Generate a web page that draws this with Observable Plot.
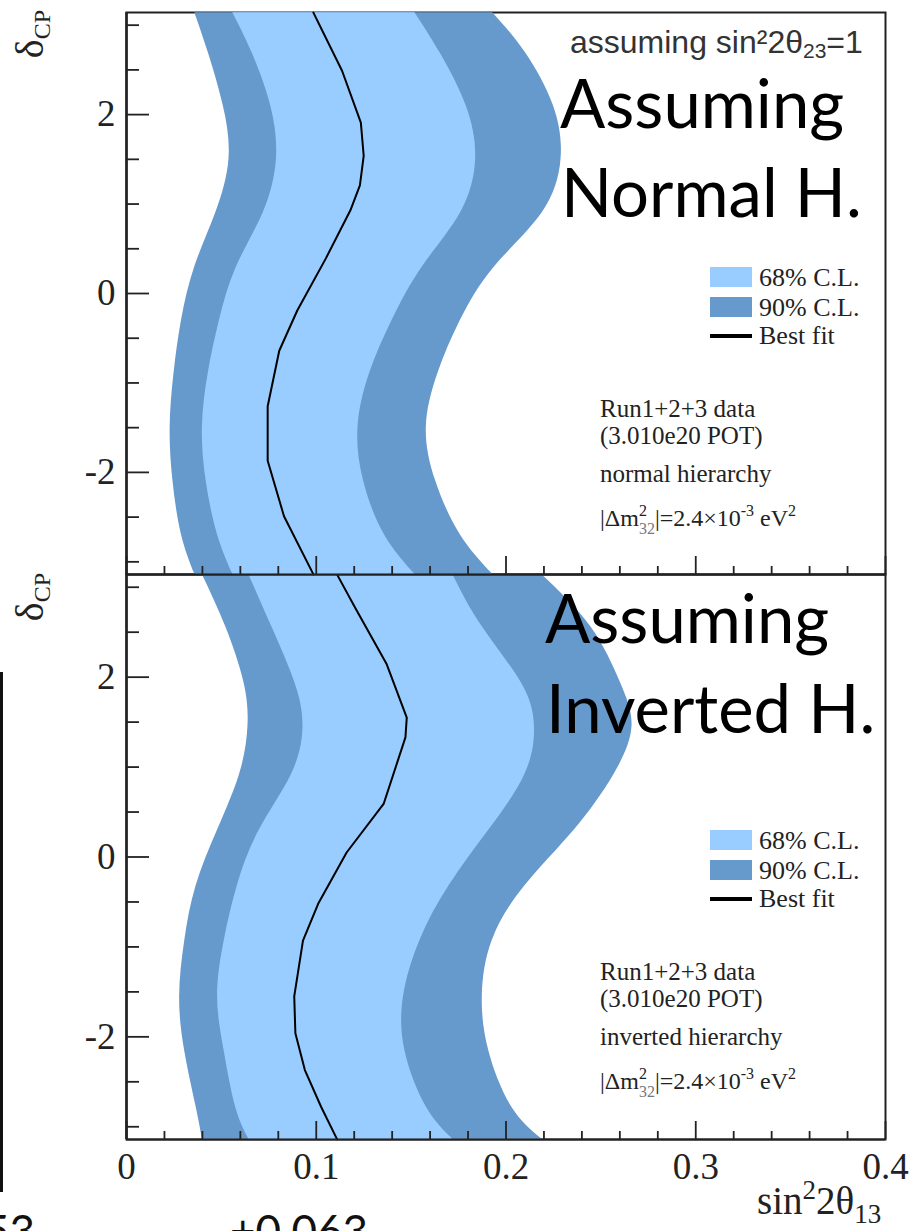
<!DOCTYPE html>
<html>
<head>
<meta charset="utf-8">
<script src="https://cdn.jsdelivr.net/npm/d3@7"></script>
<script src="https://cdn.jsdelivr.net/npm/@observablehq/plot@0.6"></script>
<style>
  html, body { margin: 0; padding: 0; background: white; }
  #wrap { position: relative; width: 912px; height: 1231px; overflow: hidden; background: white; }
  #wrap svg { position: absolute; left: 0; background: transparent; overflow: visible; }
  #artLine { position: absolute; left: 0; top: 672px; width: 3px; height: 520px; background: #111; }
</style>
</head>
<body>
<div id="wrap"><div id="artLine"></div></div>
<script>
// ---------- data ----------
// Normal hierarchy (top panel)
const nhDelta = [-3.14, -2.7, -2.1, -1.5, -0.9, -0.3, 0.3, 0.9, 1.5, 2.1, 2.7, 3.14];
const nhLo90  = [0.036, 0.029, 0.0245, 0.023, 0.025, 0.029, 0.036, 0.047, 0.054, 0.051, 0.043, 0.036];
const nhLo68  = [0.056, 0.048, 0.042, 0.040, 0.043, 0.049, 0.058, 0.072, 0.079, 0.076, 0.066, 0.056];
const nhHi68  = [0.152, 0.136, 0.125, 0.122, 0.128, 0.140, 0.156, 0.176, 0.184, 0.179, 0.165, 0.152];
const nhHi90  = [0.193, 0.176, 0.163, 0.158, 0.164, 0.176, 0.194, 0.219, 0.229, 0.225, 0.210, 0.193];
const nhBestDelta = [-3.14, -2.49, -1.87, -1.26, -0.64, -0.19, 0.39, 0.93, 1.21, 1.54, 1.91, 2.49, 3.14];
const nhBest      = [0.0985, 0.083, 0.0744, 0.0744, 0.0805, 0.090, 0.105, 0.118, 0.123, 0.125, 0.1235, 0.1136, 0.0985];

// Inverted hierarchy (bottom panel)
const ihDelta = [-3.14, -2.78, -2.16, -1.55, -0.93, -0.32, 0.3, 0.92, 1.45, 1.94, 2.56, 3.14];
const ihLo90  = [0.040, 0.0367, 0.0307, 0.028, 0.0307, 0.0367, 0.048, 0.0596, 0.064, 0.0619, 0.0523, 0.040];
const ihLo68  = [0.0645, 0.0575, 0.0515, 0.048, 0.0515, 0.0584, 0.0700, 0.087, 0.093, 0.0887, 0.0766, 0.0645];
const ihHi68  = [0.172, 0.158, 0.1468, 0.146, 0.1546, 0.170, 0.191, 0.210, 0.215, 0.208, 0.1875, 0.172];
const ihHi90  = [0.219, 0.203, 0.191, 0.1875, 0.1927, 0.210, 0.236, 0.257, 0.2664, 0.2603, 0.2447, 0.219];
const ihBestDelta = [-3.14, -2.78, -2.37, -1.96, -1.55, -0.93, -0.52, 0.05, 0.59, 1.33, 1.55, 2.15, 2.76, 3.14];
const ihBest      = [0.111, 0.1026, 0.094, 0.089, 0.0884, 0.093, 0.101, 0.116, 0.1355, 0.147, 0.1477, 0.137, 0.1208, 0.111];

// axes
const xDomain = [0, 0.4];
const yDomain = [-Math.PI, Math.PI];
const xMajorTicks = [0, 0.1, 0.2, 0.3, 0.4];
const xMinorTicks = [0.02, 0.04, 0.06, 0.08, 0.12, 0.14, 0.16, 0.18, 0.22, 0.24, 0.26, 0.28, 0.32, 0.34, 0.36, 0.38];
const yMajorTicks = [-2, 0, 2];
const yMinorTicks = [-3, -2.5, -1.5, -1, -0.5, 0.5, 1, 1.5, 2.5, 3];

// texts
const legendLabels = ["68% C.L.", "90% C.L.", "Best fit"];
const runLines = ["Run1+2+3 data", "(3.010e20 POT)"];
const hierarchyLabels = ["normal hierarchy", "inverted hierarchy"];
const bigTitles = [["Assuming", "Normal H."], ["Assuming", "Inverted H."]];

// colors
const c68 = "#99ccff";
const c90 = "#6699cc";
const ink = "#222";

// ---------- helpers ----------
const toRows = (d, lo90, lo68, hi68, hi90) => d.map((v, i) => ({d: v, lo90: lo90[i], lo68: lo68[i], hi68: hi68[i], hi90: hi90[i]}));
const toLine = (d, s) => d.map((v, i) => ({d: v, s: s[i]}));

const W = 912, ML = 126, MR = 27;
const innerW = W - ML - MR;

function panel({rows, best, height, marginTop, marginBottom, showXLabels}) {
  const innerH = height - marginTop - marginBottom;
  const marks = [
    Plot.frame({stroke: ink, strokeWidth: 2}),
    Plot.areaX(rows, {y: "d", x1: "lo90", x2: "hi90", fill: c90, curve: "natural"}),
    Plot.areaX(rows, {y: "d", x1: "lo68", x2: "hi68", fill: c68, curve: "natural"}),
    Plot.line(best, {x: "s", y: "d", stroke: "#000", strokeWidth: 2}),
    Plot.ruleY([yDomain[0]], {stroke: ink, strokeWidth: 2}),
    Plot.ruleX([xDomain[0]], {stroke: ink, strokeWidth: 2.5}),
    Plot.tickY(yMajorTicks, {y: d => d, insetRight: innerW - 23, stroke: ink, strokeWidth: 1.8}),
    Plot.tickY(yMinorTicks, {y: d => d, insetRight: innerW - 13, stroke: ink, strokeWidth: 1.8}),
    Plot.tickX(xMajorTicks, {x: d => d, insetTop: innerH - 18, stroke: ink, strokeWidth: 1.8}),
    Plot.tickX(xMinorTicks, {x: d => d, insetTop: innerH - 8, stroke: ink, strokeWidth: 1.8}),
    Plot.axisY(yMajorTicks, {tickSize: 0, tickPadding: 11, tickFormat: d => String(d), label: null,
      fontSize: 37, fontFamily: "Liberation Serif", fill: ink})
  ];
  if (showXLabels) {
    marks.push(Plot.axisX(xMajorTicks, {tickSize: 0, tickPadding: 13, tickFormat: d => String(d), label: null,
      fontSize: 37, fontFamily: "Liberation Serif", fill: ink}));
  }
  return Plot.plot({
    width: W, height, marginLeft: ML, marginRight: MR, marginTop, marginBottom,
    x: {domain: xDomain, axis: showXLabels ? undefined : null},
    y: {domain: yDomain},
    style: {background: "transparent", fontFamily: "Liberation Serif", overflow: "visible"},
    marks
  });
}

const wrap = document.getElementById("wrap");

// bottom panel first (so top panel's axis line is drawn above it)
const BOTTOM_TOP = 562;
const bottomSvg = panel({
  rows: toRows(ihDelta, ihLo90, ihLo68, ihHi68, ihHi90),
  best: toLine(ihBestDelta, ihBest),
  height: 1231 - BOTTOM_TOP, marginTop: 12, marginBottom: 1231 - BOTTOM_TOP - 577, showXLabels: true
});
bottomSvg.style.top = BOTTOM_TOP + "px";
wrap.appendChild(bottomSvg);

const topSvg = panel({
  rows: toRows(nhDelta, nhLo90, nhLo68, nhHi68, nhHi90),
  best: toLine(nhBestDelta, nhBest),
  height: 580, marginTop: 12, marginBottom: 6, showXLabels: false
});
topSvg.style.top = "0px";
wrap.appendChild(topSvg);

// ---------- annotations ----------
function newGroup(svgEl) {
  return d3.select(svgEl).append("g").attr("text-anchor", "start");
}

function annotate(svgEl, oy, idx) {
  const g = newGroup(svgEl);
  // y label  δ_CP (rotated)
  const yl = g.append("text")
    .attr("transform", `translate(43,${oy + 10}) rotate(-90)`)
    .attr("text-anchor", "end")
    .attr("font-family", "Liberation Serif").attr("fill", ink);
  yl.append("tspan").attr("font-size", 40).text("δ");
  yl.append("tspan").attr("font-size", 24).attr("dy", 7).text("CP");

  // big titles
  const t = bigTitles[idx];
  const bx = idx === 0 ? 560 : 545;
  const b1 = idx === 0 ? 128 : 80;
  g.append("text").attr("x", bx).attr("y", oy + b1).attr("font-family", "Lato").attr("font-size", 67).attr("fill", "#000").text(t[0]);
  g.append("text").attr("x", bx + 1).attr("y", oy + b1 + (idx === 0 ? 89 : 90)).attr("font-family", "Lato").attr("font-size", 67).attr("fill", "#000").text(t[1]);

  // legend
  const lx = 710;
  g.append("rect").attr("x", lx).attr("y", oy + 267).attr("width", 42).attr("height", 20).attr("fill", c68);
  g.append("rect").attr("x", lx).attr("y", oy + 297).attr("width", 42).attr("height", 20).attr("fill", c90);
  g.append("line").attr("x1", lx).attr("x2", lx + 42).attr("y1", oy + 336).attr("y2", oy + 336).attr("stroke", "#000").attr("stroke-width", 4);
  [286, 316, 344].forEach((b, i) => {
    g.append("text").attr("x", 759).attr("y", oy + b).attr("font-family", "Liberation Serif").attr("font-size", 26).attr("fill", ink).text(legendLabels[i]);
  });

  // run info
  g.append("text").attr("x", 600).attr("y", oy + 417).attr("font-family", "Liberation Serif").attr("font-size", 25).attr("fill", ink).text(runLines[0]);
  g.append("text").attr("x", 600).attr("y", oy + 444).attr("font-family", "Liberation Serif").attr("font-size", 25).attr("fill", ink).text(runLines[1]);
  g.append("text").attr("x", 600).attr("y", oy + 482).attr("font-family", "Liberation Serif").attr("font-size", 25).attr("fill", ink).text(hierarchyLabels[idx]);
  const dm = g.append("text").attr("x", 600).attr("y", oy + 526).attr("font-family", "Liberation Serif").attr("font-size", 24).attr("fill", ink);
  dm.append("tspan").text("|Δm");
  dm.append("tspan").attr("font-size", 16).attr("dy", -10).text("2");
  dm.append("tspan").attr("font-size", 16).attr("dx", -8).attr("dy", 18).attr("fill", "#777").text("32");
  dm.append("tspan").attr("dy", -8).text("|=2.4×10");
  dm.append("tspan").attr("font-size", 16).attr("dy", -10).text("-3");
  dm.append("tspan").attr("dy", 10).text(" eV");
  dm.append("tspan").attr("font-size", 16).attr("dy", -10).text("2");
}

annotate(topSvg, 0, 0);
annotate(bottomSvg, 1, 1); // bottom svg local coords = page - 562; panel offset 563

// top-right note
{
  const g = newGroup(topSvg);
  const tx = g.append("text").attr("x", 570).attr("y", 53).attr("font-family", "Liberation Sans").attr("font-size", 32).attr("fill", "#333");
  tx.append("tspan").text("assuming sin²2θ");
  tx.append("tspan").attr("font-size", 21).attr("dy", 5).text("23");
  tx.append("tspan").attr("dy", -5).text("=1");
}

// x-axis title  sin²2θ13
{
  const g = newGroup(bottomSvg);
  const oy = -BOTTOM_TOP;
  const tx = g.append("text").attr("x", 757).attr("y", oy + 1214).attr("font-family", "Liberation Serif").attr("font-size", 39).attr("fill", ink);
  tx.append("tspan").text("sin");
  tx.append("tspan").attr("font-size", 27).attr("dy", -15).text("2");
  tx.append("tspan").attr("dy", 15).text("2θ");
  tx.append("tspan").attr("font-size", 27).attr("dy", 9).text("13");
  // fragments of a neighbouring slide, cut at the page edge as in the reference
  g.append("text").attr("x", 35).attr("y", oy + 1247).attr("text-anchor", "end").attr("font-family", "Lato").attr("font-size", 44).attr("fill", "#111").text("53");
  g.append("text").attr("x", 230).attr("y", oy + 1247).attr("font-family", "Lato").attr("font-size", 44).attr("fill", "#111").text("+0.063");
}
</script>
</body>
</html>
